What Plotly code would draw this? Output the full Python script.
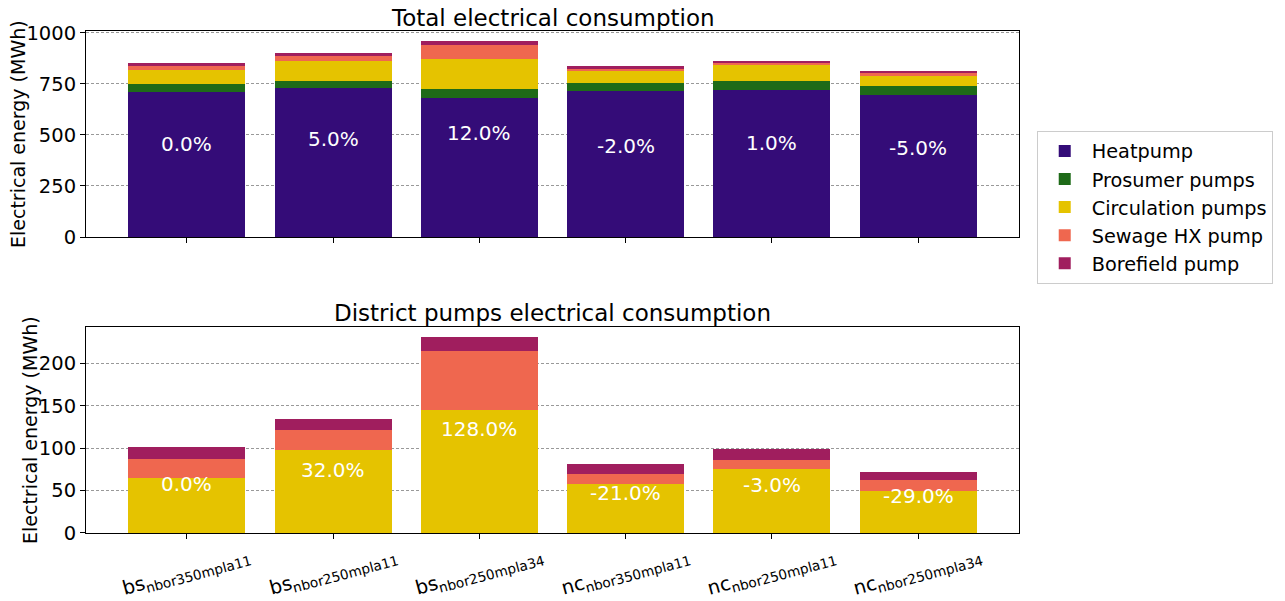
import plotly.graph_objs as go
from plotly.subplots import make_subplots

# scenarios and energy values (MWh)
cases = ['bs<sub>nbor350mpla11</sub>', 'bs<sub>nbor250mpla11</sub>', 'bs<sub>nbor250mpla34</sub>',
         'nc<sub>nbor350mpla11</sub>', 'nc<sub>nbor250mpla11</sub>', 'nc<sub>nbor250mpla34</sub>']
heatpump = [712, 728, 683, 717, 722, 698]
prosumer = [39, 38, 44, 39, 44, 43]
circulation = [65, 98, 145, 58, 76, 49]
sewage = [22.5, 23.5, 70, 11, 10.5, 14]
borefield = [14, 13, 16.5, 12, 12, 9.5]
total_change = ['0.0%', '5.0%', '12.0%', '-2.0%', '1.0%', '-5.0%']
district_change = ['0.0%', '32.0%', '128.0%', '-21.0%', '-3.0%', '-29.0%']

colors = {
    'Heatpump': '#340c78',
    'Prosumer pumps': '#1e6a18',
    'Circulation pumps': '#e5c300',
    'Sewage HX pump': '#ef674f',
    'Borefield pump': '#a01e5e',
}

xs = list(range(len(cases)))
font = 'DejaVu Sans'

fig = make_subplots(rows=2, cols=1, vertical_spacing=0.18)

top_series = [('Heatpump', heatpump), ('Prosumer pumps', prosumer),
              ('Circulation pumps', circulation), ('Sewage HX pump', sewage),
              ('Borefield pump', borefield)]
for name, vals in top_series:
    fig.add_trace(go.Bar(x=xs, y=vals, name=name, marker=dict(color=colors[name], line=dict(width=0)),
                         width=0.8), row=1, col=1)

for name, vals in top_series[2:]:
    fig.add_trace(go.Bar(x=xs, y=vals, name=name, showlegend=False,
                         marker=dict(color=colors[name], line=dict(width=0)), width=0.8), row=2, col=1)

# percentage labels in the middle of each stack
tot_top = [sum(v) for v in zip(heatpump, prosumer, circulation, sewage, borefield)]
tot_bot = [sum(v) for v in zip(circulation, sewage, borefield)]
for i in xs:
    fig.add_annotation(x=i, y=tot_top[i] / 2, text=total_change[i], showarrow=False, yshift=6,
                       font=dict(color='white', size=20, family=font), xref='x', yref='y')
    fig.add_annotation(x=i, y=tot_bot[i] / 2, text=district_change[i], showarrow=False, yshift=6,
                       font=dict(color='white', size=20, family=font), xref='x2', yref='y2')
    # rotated category labels, centred under each bar
    fig.add_annotation(x=i, y=0, xref='x2', yref='y2', text=cases[i], showarrow=False,
                       textangle=-15, xanchor='center', yanchor='middle', yshift=-40,
                       font=dict(size=19.5, family=font, color='black'))

# subplot titles
fig.add_annotation(x=0.5, y=1.0, xref='paper', yref='paper', yshift=13, yanchor='middle',
                   text='Total electrical consumption',
                   showarrow=False, font=dict(size=23, family=font, color='black'))
fig.add_annotation(x=0.5, y=0.4104, xref='paper', yref='paper', yshift=14, yanchor='middle',
                   text='District pumps electrical consumption',
                   showarrow=False, font=dict(size=23, family=font, color='black'))

# y axis titles, placed by hand as in the reference
ytitle_font = dict(size=19, family=font, color='black')
fig.add_annotation(x=-0.0729, y=0.7948, xref='paper', yref='paper', text='Electrical energy (MWh)',
                   textangle=-90, showarrow=False, xanchor='center', yanchor='middle', font=ytitle_font)
fig.add_annotation(x=-0.060, y=0.2052, xref='paper', yref='paper', text='Electrical energy (MWh)',
                   textangle=-90, showarrow=False, xanchor='center', yanchor='middle', font=ytitle_font)

axis_common = dict(showline=True, linecolor='black', linewidth=1, mirror=True, automargin=False,
                   ticks='outside', ticklen=5, tickcolor='black',
                   tickfont=dict(size=19.5, family=font, color='black'))

fig.update_xaxes(range=[-0.69, 5.69], tickvals=xs, showticklabels=False, showgrid=False,
                 zeroline=False, **axis_common)

fig.update_yaxes(showgrid=True, gridcolor='#999999', griddash='3px,2px', gridwidth=1, zeroline=False,
                 **axis_common)
fig.update_yaxes(range=[0, 1009], tickvals=[0, 250, 500, 750, 1000], domain=[0.5896, 1.0], row=1, col=1)
fig.update_yaxes(range=[0, 243], tickvals=[0, 50, 100, 150, 200], domain=[0.0, 0.4104], row=2, col=1)

fig.update_layout(
    width=1285, height=601,
    barmode='stack',
    plot_bgcolor='white', paper_bgcolor='white',
    margin=dict(l=86, r=266, t=31, b=68, autoexpand=False),
    font=dict(family=font, color='black'),
    legend=dict(x=1.019, y=0.801, xanchor='left', yanchor='top', traceorder='normal',
                bgcolor='white', bordercolor='#cccccc', borderwidth=1,
                font=dict(size=19.3, family=font, color='black'),
                tracegroupgap=0, itemwidth=44),
)

# drop the default page margin so the figure sits at the window corner
fig.write_html("out.html", config={'displayModeBar': False},
               post_script="document.body.style.margin='0';")
